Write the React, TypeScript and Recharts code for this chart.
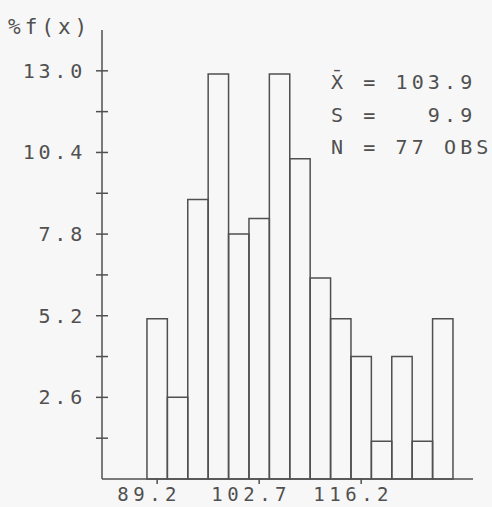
import { BarChart, Bar, XAxis, YAxis } from "recharts";

// bin midpoints and % frequency
const binMids = [89.2, 91.9, 94.6, 97.3, 100.0, 102.7, 105.4, 108.1, 110.8, 113.5, 116.2, 118.9, 121.6, 124.3, 127.0];
const pctF = [5.1, 2.6, 8.9, 12.9, 7.8, 8.3, 12.9, 10.2, 6.4, 5.1, 3.9, 1.2, 3.9, 1.2, 5.1];

const xTicks = [89.2, 102.7, 116.2];
const yTicks = [1.3, 2.6, 3.9, 5.2, 6.5, 7.8, 9.1, 10.4, 11.7, 13.0];
const yLabeled = [2.6, 5.2, 7.8, 10.4, 13.0];

const stats = ["X\u0304 = 103.9", "S =   9.9", "N = 77 OBS"];

const ink = "#505050";
const font = "'DejaVu Sans Mono', monospace";

const data = binMids.map((x, i) => ({ x, f: pctF[i] }));

const YTick = ({ x, y, payload }: any) => {
    const show = yLabeled.some(v => Math.abs(v - payload.value) < 0.01);
    return (
        <g>
            <line x1={x - 6} x2={x + 6} y1={y} y2={y} stroke={ink} strokeWidth={1.5} />
            {show && (
                <text x={x - 16} y={y + 7} textAnchor="end" fill={ink}
                    fontFamily={font} fontSize={20} letterSpacing={3.8}>
                    {payload.value.toFixed(1)}
                </text>
            )}
        </g>
    );
};

const XTick = ({ x, y, payload }: any) => (
    <g>
        <line x1={x} x2={x} y1={y} y2={y + 5} stroke={ink} strokeWidth={1.5} />
        <text x={x - 8} y={y + 22} textAnchor="middle" fill={ink}
            fontFamily={font} fontSize={19} letterSpacing={4.5}>
            {payload.value.toFixed(1)}
        </text>
    </g>
);

export default function App() {
    return (
        <div style={{ position: "absolute", left: 0, top: 0, width: 492, height: 507, background: "#f7f7f7" }}>
            <BarChart
                width={492} height={507} data={data}
                margin={{ top: 30, right: 19, left: 0, bottom: 0 }}
            >
                <XAxis
                    dataKey="x" type="number" domain={[81.9, 131.0]}
                    ticks={xTicks} tickSize={0} tickMargin={0} tickLine={false}
                    height={28} tick={<XTick />}
                    axisLine={{ stroke: ink, strokeWidth: 1.5 }} />
                <YAxis
                    type="number" domain={[0, 14.3]} ticks={yTicks}
                    width={102} tickSize={0} tickMargin={0} tickLine={false}
                    tick={<YTick />} interval={0}
                    axisLine={{ stroke: ink, strokeWidth: 1.5 }} />
                <Bar
                    dataKey="f" barSize={20.4}
                    fill="none" stroke={ink} strokeWidth={1.5}
                    isAnimationActive={false} />
            </BarChart>
            <div style={{
                position: "absolute", left: 8, top: 15, color: ink,
                fontFamily: font, fontSize: 21, letterSpacing: 4, lineHeight: "24px",
            }}>
                %f(x)
            </div>
            <div style={{
                position: "absolute", left: 331, top: 66, color: ink,
                fontFamily: font, fontSize: 20, letterSpacing: 4.1, lineHeight: "32.5px",
                whiteSpace: "pre",
            }}>
                {stats.map(s => <div key={s}>{s}</div>)}
            </div>
        </div>
    );
}
